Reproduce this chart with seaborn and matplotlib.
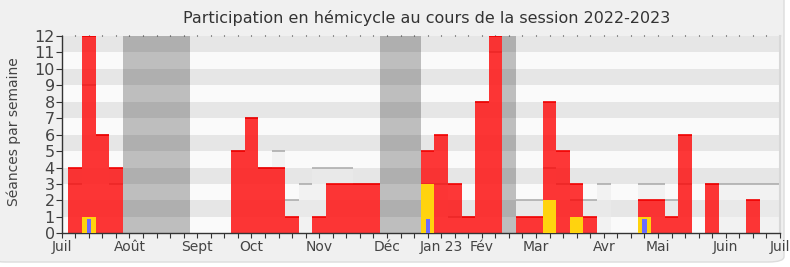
import numpy as np
import pandas as pd
import matplotlib
matplotlib.use("Agg")
import matplotlib.pyplot as plt
from matplotlib.patches import FancyBboxPatch
import seaborn as sns

# ---- data (one value per week, index 0..53) ----
semaines = list(range(54))
presences = [0, 4, 12, 6, 4, 0, 0, 0, 0, 0,
             0, 0, 0, 5, 7, 4, 4, 1, 0, 1,
             3, 3, 3, 3, 0, 0, 0, 5, 6, 3,
             1, 8, 12, 0, 1, 1, 8, 5, 3, 1,
             0, 0, 0, 2, 2, 1, 6, 0, 3, 0,
             0, 2, 0, 0]
mediane = [0, 3, 9, 6, 3, 0, 0, 0, 0, 0,
           0, 0, 0, 5, 7, 4, 5, 2, 3, 4,
           4, 4, 3, 3, 0, 0, 0, 3, 3, 1,
           1, 8, 11, 0, 2, 2, 4, 3, 2, 2,
           3, 0, 0, 3, 3, 2, 3, 0, 3, 3,
           3, 3, 3, 3]
interventions = [0] * 54
for k, v in {2: 1, 27: 3, 36: 2, 38: 1, 43: 1}.items():
    interventions[k] = v
questions = [0] * 54
for k, v in {2: 0.87, 27: 0.87, 43: 0.87}.items():
    questions[k] = v

vacances = [(4.5, 9.5), (23.45, 26.5), (32.47, 33.5)]
mois_pos = [0, 5, 10, 14, 19, 24, 28, 31, 35, 40, 44, 49, 53]
mois_lab = ["Juil", "Août", "Sept", "Oct", "Nov", "Déc", "Jan 23", "Fév",
            "Mar", "Avr", "Mai", "Juin", "Juil"]

df = pd.DataFrame({"semaine": semaines, "presences": presences,
                   "mediane": mediane, "interventions": interventions,
                   "questions": questions})

W, H = 790, 267
fig = plt.figure(figsize=(W / 100, H / 100), dpi=100)
fig.patch.set_facecolor("white")
bg = FancyBboxPatch((-10 / W, (H - 262) / H), (784 + 10) / W, 1.2,
                    boxstyle="round,pad=0,rounding_size=0.02",
                    transform=fig.transFigure, facecolor="#f0f0f0",
                    edgecolor="#dcdcdc", linewidth=1, zorder=-10)
fig.patches.append(bg)

ax = fig.add_axes([61.7 / W, 1 - 233.3 / H, (780 - 61.7) / W, (233.3 - 36) / H])
ax.set_facecolor("#fafafa")
for k in range(1, 12, 2):
    ax.axhspan(k, k + 1, color="#e6e6e6", lw=0, zorder=0)
for a, b in vacances:
    ax.axvspan(a, b, color="black", alpha=0.24, lw=0, zorder=0.5)

x = np.array(semaines)
# median presence (light grey)
sns.barplot(data=df, x="semaine", y="mediane", native_scale=True, width=1,
            color="#ececec", alpha=0.5, linewidth=0, errorbar=None, ax=ax,
            saturation=1, zorder=1)
med = np.array(mediane)
m = med > 0
ax.hlines(med[m], x[m] - 0.5, x[m] + 0.5, color="#a8a8a8", lw=1.1, zorder=1.5)

# presences (red)
sns.barplot(data=df, x="semaine", y="presences", native_scale=True, width=1,
            color="#ff0000", alpha=0.78, linewidth=0, errorbar=None, ax=ax,
            saturation=1, zorder=2)
pr = np.array(presences)
m = pr > 0
ax.hlines(pr[m], x[m] - 0.5, x[m] + 0.5, color="#f00000", lw=1.2, zorder=2.5)

# interventions (yellow)
sns.barplot(data=df, x="semaine", y="interventions", native_scale=True,
            width=1, color="#ffd30e", linewidth=0, errorbar=None, ax=ax,
            saturation=1, zorder=3)
# questions (blue)
sns.barplot(data=df, x="semaine", y="questions", native_scale=True,
            width=0.3, color="#6b6bff", linewidth=0, errorbar=None, ax=ax,
            saturation=1, zorder=4)

ax.set_xlim(0, 53)
ax.set_ylim(0, 12)
ax.set_xlabel("")
ax.set_ylabel("")
ax.set_xticks(mois_pos)
ax.set_xticklabels(mois_lab)
ax.set_xticks(range(54), minor=True)
ax.set_yticks(range(13))
ax.set_yticklabels([str(i) for i in range(13)])

txt = "#444444"
ax.spines["top"].set_visible(False)
ax.spines["right"].set_color("#d8d8d8")
ax.spines["right"].set_linewidth(1.5)
for s in ["left", "bottom"]:
    ax.spines[s].set_color("#333333")
    ax.spines[s].set_linewidth(1)
ax.tick_params(axis="x", which="both", length=3.5, width=0.8, color="#333333",
               labelsize=10, labelcolor=txt, pad=1, top=True, bottom=True,
               direction="out")
ax.tick_params(axis="y", length=4, width=0.8, color="#333333", labelsize=11.5,
               labelcolor=txt, pad=1)
for t in ax.xaxis.get_major_ticks() + ax.xaxis.get_minor_ticks():
    t.tick2line.set_markersize(1.0)

fig.text(0.54, 1 - 18 / H, "Participation en hémicycle au cours de la session 2022-2023",
         ha="center", va="center", fontsize=11.5, color="#333333")
fig.text(14 / W, 1 - 131.5 / H, "Séances par semaine", rotation=90,
         ha="center", va="center", fontsize=10, color=txt)

fig.savefig("out.png", dpi=100, facecolor=fig.get_facecolor())
